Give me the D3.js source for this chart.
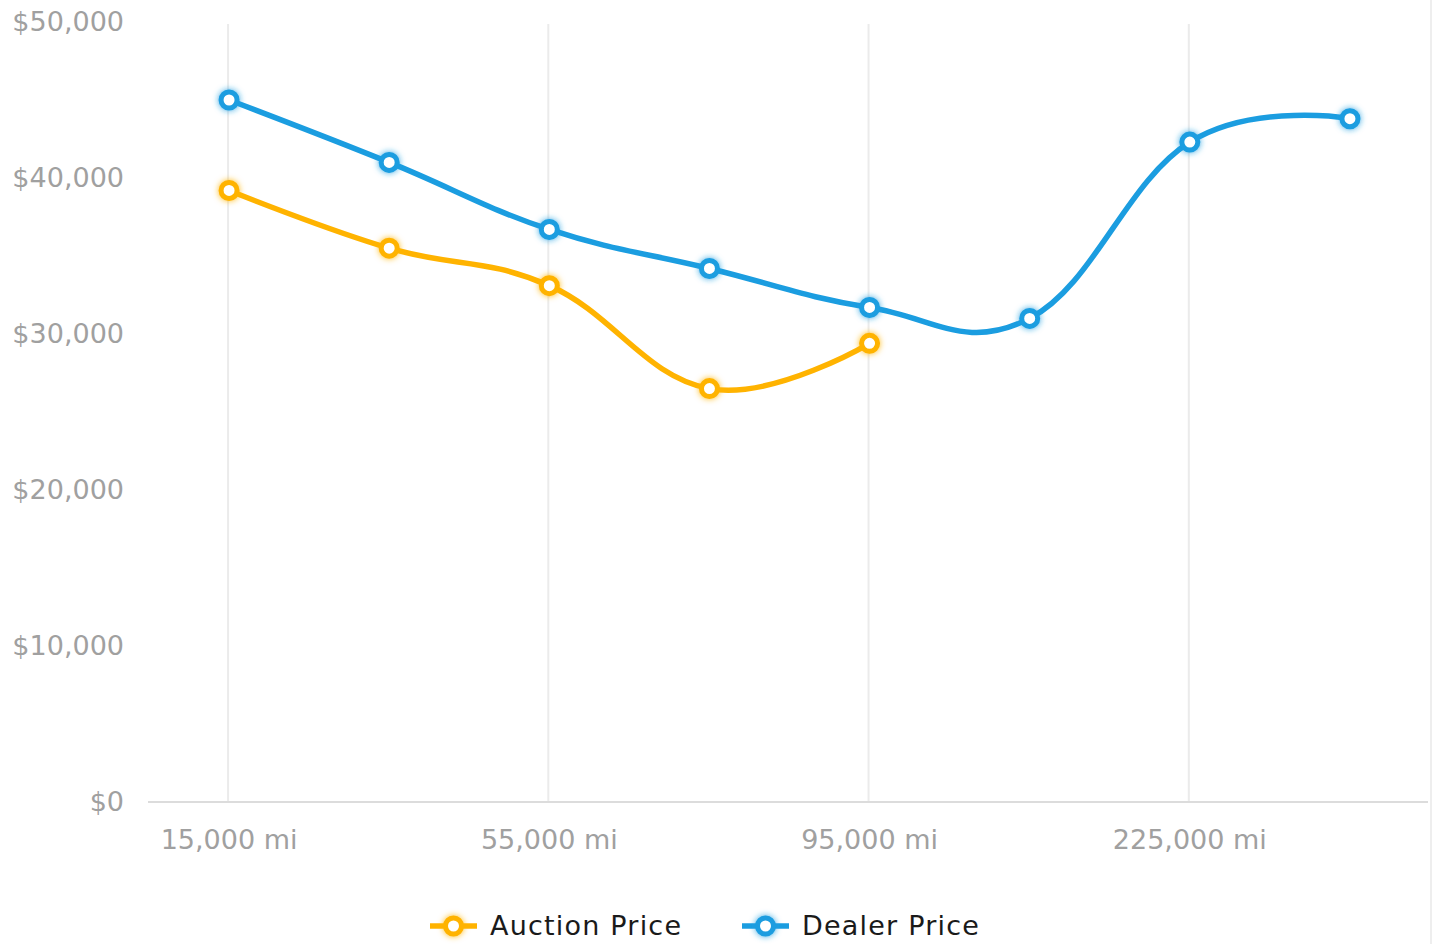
<html>
<head>
<meta charset="utf-8">
<title>Auction vs dealer price by mileage</title>
<script src="https://cdn.jsdelivr.net/npm/d3@7"></script>
<style>
  body { margin: 0; background: #fff; }
  text { font-family: "DejaVu Sans", sans-serif; }
</style>
</head>
<body>
<svg id="chart" width="1438" height="944"></svg>
<script>

// mileage buckets (only every other one gets a label)
var mileage = ["15,000 mi", "35,000 mi", "55,000 mi", "75,000 mi", "95,000 mi", "135,000 mi", "225,000 mi", "275,000 mi"]
var auctionPrice = [39200, 35500, 33100, 26500, 29400, null, null, null]
var dealerPrice = [45000, 41000, 36700, 34200, 31700, 31000, 42300, 43800]
var priceTicks = [0, 10000, 20000, 30000, 40000, 50000]
var seriesNames = ["Auction Price", "Dealer Price"]
var seriesColors = ["#ffb300", "#1b9de0"]

function drawChart() {
	var svg = d3.select('#chart')
	var W = 1438, H = 944
	var plotL = 148, plotR = 1428, plotT = 22, plotB = 802

	var x = d3.scaleBand().domain(mileage).range([plotL + 1, plotR + 2])
	var y = d3.scaleLinear().domain([0, 50000]).range([plotB, plotT])
	var cx = function(d){ return x(d) + x.bandwidth() / 2 }
	var labelled = mileage.filter(function(d, i){ return i % 2 == 0 })

	// glow filters for the point markers
	var defs = svg.append('defs')
	seriesColors.forEach(function(c, i){
		defs.append('filter').attr('id', 'glow' + i)
			.attr('x', '-100%').attr('y', '-100%').attr('width', '300%').attr('height', '300%')
			.append('feDropShadow')
			.attr('dx', 0).attr('dy', 0).attr('stdDeviation', 3)
			.attr('flood-color', c).attr('flood-opacity', 0.9)
	})

	// page edge line on the right
	svg.append('line')
		.attr('x1', 1431).attr('x2', 1431).attr('y1', 0).attr('y2', H)
		.attr('stroke', '#eee').attr('stroke-width', 2)

	// vertical grid at the labelled buckets
	svg.append('g').selectAll('line')
		.data(labelled)
		.enter().append('line')
		.attr('x1', function(d){ return cx(d) - 1 }).attr('x2', function(d){ return cx(d) - 1 })
		.attr('y1', plotT + 2).attr('y2', plotB)
		.attr('stroke', '#ebebeb').attr('stroke-width', 2)

	// baseline
	svg.append('line')
		.attr('x1', plotL).attr('x2', plotR).attr('y1', plotB).attr('y2', plotB)
		.attr('stroke', '#dcdcdc').attr('stroke-width', 2)

	// y axis labels
	var yAxis = svg.append('g')
		.attr('transform', 'translate(124,0)')
		.call(d3.axisLeft(y).tickValues(priceTicks).tickSize(0).tickPadding(0)
			.tickFormat(function(d){ return '$' + d3.format(',')(d) }))
	yAxis.select('.domain').remove()
	yAxis.selectAll('text').attr('font-size', 27).attr('fill', '#a0a0a0')
		.attr('font-family', '"DejaVu Sans", sans-serif')

	// x axis labels
	var xAxis = svg.append('g')
		.attr('transform', 'translate(0,' + plotB + ')')
		.call(d3.axisBottom(x).tickValues(labelled).tickSize(0).tickPadding(28))
	xAxis.select('.domain').remove()
	xAxis.selectAll('text').attr('font-size', 27).attr('fill', '#a0a0a0')
		.attr('font-family', '"DejaVu Sans", sans-serif')

	// lines + points
	var line = d3.line()
		.x(function(d){ return cx(d.k) })
		.y(function(d){ return y(d.v) })
		.curve(d3.curveCardinal.tension(-0.2))

	var series = [auctionPrice, dealerPrice]
	series.forEach(function(vals, i){
		var pts = mileage.map(function(k, j){ return { k: k, v: vals[j] } })
			.filter(function(d){ return d.v != null })
		svg.append('path').datum(pts)
			.attr('d', line)
			.attr('fill', 'none')
			.attr('stroke', seriesColors[i])
			.attr('stroke-width', 5.5)
		svg.append('g').attr('filter', 'url(#glow' + i + ')')
			.selectAll('circle').data(pts).enter().append('circle')
			.attr('cx', function(d){ return cx(d.k) })
			.attr('cy', function(d){ return y(d.v) })
			.attr('r', 8)
			.attr('fill', '#fff')
			.attr('stroke', seriesColors[i])
			.attr('stroke-width', 5)
	})

	// legend
	var legendX = [430, 742], legendY = 926
	seriesNames.forEach(function(name, i){
		var g = svg.append('g').attr('transform', 'translate(' + legendX[i] + ',' + legendY + ')')
		g.append('line').attr('x1', 0).attr('x2', 47).attr('y1', 0).attr('y2', 0)
			.attr('stroke', seriesColors[i]).attr('stroke-width', 5.5)
		g.append('circle').attr('cx', 23.5).attr('cy', 0).attr('r', 8)
			.attr('fill', '#fff').attr('stroke', seriesColors[i]).attr('stroke-width', 5)
			.attr('filter', 'url(#glow' + i + ')')
		g.append('text').attr('x', 60).attr('y', 0).attr('dy', '0.35em')
			.attr('font-size', 27).attr('fill', '#1a1a1a').attr('letter-spacing', 1.2)
			.text(name)
	})
}

drawChart()

</script>
</body>
</html>
